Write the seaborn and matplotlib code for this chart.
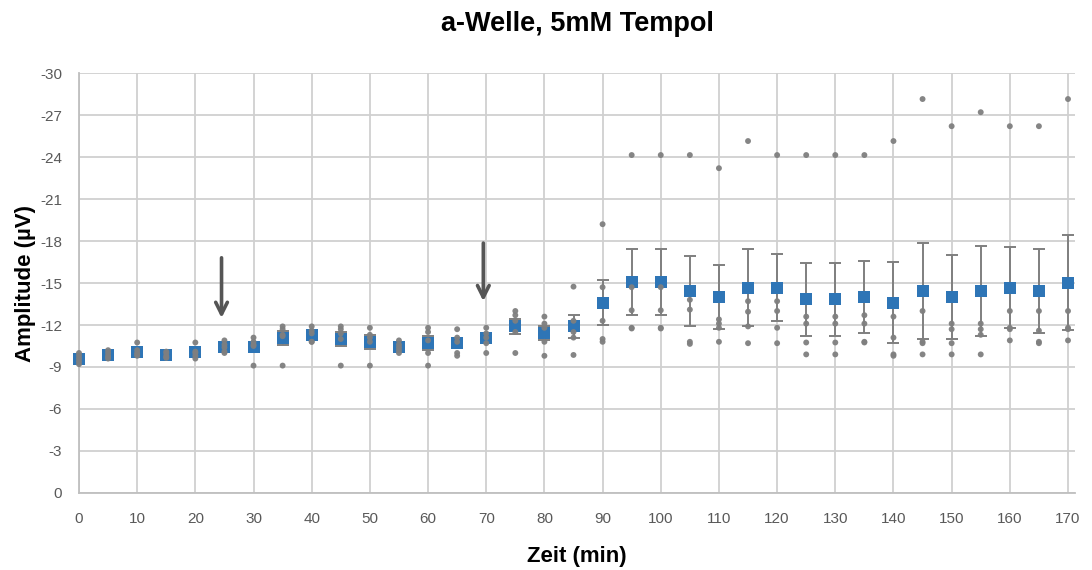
import matplotlib
matplotlib.use("Agg")
import matplotlib.pyplot as plt
from matplotlib.ticker import MultipleLocator, FuncFormatter
import numpy as np
import pandas as pd
import seaborn as sns

# Time points (min)
zeit = [0, 5, 10, 15, 20, 25, 30, 35, 40, 45, 50, 55, 60, 65, 70, 75, 80, 85,
        90, 95, 100, 105, 110, 115, 120, 125, 130, 135, 140, 145, 150, 155, 160, 165, 170]

# Mean a-wave amplitude (µV) per time point
mittelwert = [-9.6, -9.85, -10.1, -9.85, -10.05, -10.4, -10.4, -11.05, -11.3, -11.0,
              -10.8, -10.4, -10.7, -10.7, -11.05, -11.9, -11.4, -11.9,
              -13.6, -15.05, -15.05, -14.45, -14.0, -14.67, -14.67, -13.83, -13.83,
              -14.0, -13.6, -14.43, -14.0, -14.43, -14.67, -14.43, -15.02]

# Standard error of the mean
sem = [0.14, 0.1, 0.17, 0.08, 0.19, 0.17, 0.35, 0.5, 0.25, 0.5,
       0.5, 0.15, 0.5, 0.35, 0.3, 0.55, 0.5, 0.83,
       1.6, 2.36, 2.36, 2.5, 2.3, 2.75, 2.4, 2.6, 2.6,
       2.6, 2.9, 3.4, 3.0, 3.2, 2.9, 3.0, 3.4]

# Single recordings (µV), one row per time point
einzelwerte = [
    [-10.0, -9.8, -9.6, -9.4, -9.2],
    [-10.2, -10.0, -9.8, -9.7, -9.6],
    [-10.75, -10.2, -10.0, -9.9, -9.8],
    [-10.1, -10.0, -9.8, -9.7, -9.65],
    [-10.75, -10.1, -10.0, -9.8, -9.6],
    [-10.9, -10.6, -10.4, -10.1, -10.0],
    [-11.1, -10.8, -10.6, -10.5, -9.1],
    [-11.9, -11.7, -11.3, -11.2, -9.1],
    [-11.9, -11.6, -11.4, -10.8, -10.8],
    [-11.9, -11.7, -11.4, -11.0, -9.1],
    [-11.8, -11.3, -11.1, -10.8, -9.1],
    [-10.9, -10.6, -10.4, -10.2, -10.0],
    [-11.8, -11.5, -10.9, -10.0, -9.1],
    [-11.7, -11.1, -10.8, -10.0, -9.8],
    [-11.8, -11.4, -11.1, -10.7, -10.0],
    [-13.0, -12.7, -12.3, -11.5, -10.0],
    [-12.6, -12.1, -11.8, -10.8, -9.8],
    [-14.74, -12.3, -11.5, -11.1, -9.86],
    [-19.2, -14.7, -12.3, -11.0, -10.8],
    [-24.14, -14.7, -13.05, -11.8, -11.75],
    [-24.14, -14.7, -13.05, -11.8, -11.75],
    [-24.14, -13.8, -13.1, -10.8, -10.65],
    [-23.2, -12.4, -12.1, -11.8, -10.8],
    [-25.14, -13.7, -12.95, -11.9, -10.7],
    [-24.14, -13.7, -13.0, -11.8, -10.7],
    [-24.14, -12.6, -12.1, -10.75, -9.9],
    [-24.14, -12.6, -12.1, -10.75, -9.9],
    [-24.14, -12.7, -12.1, -10.8, -10.75],
    [-25.14, -12.6, -11.1, -9.9, -9.8],
    [-28.14, -13.0, -10.8, -10.7, -9.9],
    [-26.2, -12.1, -11.7, -10.7, -9.9],
    [-27.2, -12.1, -11.7, -11.3, -9.9],
    [-26.2, -13.0, -11.8, -11.7, -10.9],
    [-26.2, -13.0, -11.6, -10.8, -10.7],
    [-28.14, -13.0, -11.8, -11.7, -10.9],
]

# Application times marked with arrows: (time, arrow start, arrow tip)
pfeile = [(24.5, -16.8, -12.5), (69.5, -17.85, -13.7)]

einzel_df = pd.DataFrame(
    [(t, v) for t, werte in zip(zeit, einzelwerte) for v in werte],
    columns=["Zeit", "Amplitude"],
)
mittel_df = pd.DataFrame({"Zeit": zeit, "Amplitude": mittelwert, "SEM": sem})

sns.set_theme(style="white")
plt.rcParams["font.family"] = ["Liberation Sans", "DejaVu Sans"]

x_max = 171.2
fig = plt.figure(figsize=(10.92, 5.70), dpi=100)
ax = fig.add_axes([79 / 1092, 1 - 493 / 570, (989 * x_max / 170) / 1092, 420 / 570])

grau = "#7f7f7f"
blau = "#2e75b6"
gitter = "#d0d0d0"
text_grau = "#595959"

eb = ax.errorbar(mittel_df["Zeit"], mittel_df["Amplitude"], yerr=mittel_df["SEM"],
                 fmt="none", ecolor=grau, elinewidth=1.4, capsize=4, capthick=1.4, zorder=3)
for art in eb.lines[1] + eb.lines[2]:
    art.set_clip_on(False)
sns.scatterplot(data=mittel_df, x="Zeit", y="Amplitude", marker="s", s=80,
                color=blau, edgecolor=blau, linewidth=0, ax=ax, zorder=4, clip_on=False)
sns.scatterplot(data=einzel_df, x="Zeit", y="Amplitude", marker="o", s=18,
                color=grau, edgecolor="none", alpha=0.95, ax=ax, zorder=5, clip_on=False)

for t, start, spitze in pfeile:
    ax.annotate("", xy=(t, spitze), xytext=(t, start),
                arrowprops=dict(arrowstyle="->,head_length=0.7,head_width=0.35",
                                color="#555555", lw=2.6, shrinkA=0, shrinkB=0),
                zorder=6)

ax.set_xlim(0, x_max)
ax.set_ylim(0, -30)
ax.xaxis.set_major_locator(MultipleLocator(10))
ax.xaxis.set_minor_locator(MultipleLocator(5))
ax.yaxis.set_major_locator(MultipleLocator(3))
ax.yaxis.set_minor_locator(MultipleLocator(1))
ax.yaxis.set_major_formatter(FuncFormatter(lambda v, p: f"{v:g}".replace("-0", "0")))

ax.grid(True, which="major", color=gitter, linewidth=1.3)
ax.set_axisbelow(True)
for side in ["top", "right"]:
    ax.spines[side].set_visible(False)
for side in ["left", "bottom"]:
    ax.spines[side].set_color("#bfbfbf")
    ax.spines[side].set_linewidth(1.3)

ax.tick_params(which="major", direction="out", length=6, width=1.2, color="#bfbfbf",
               labelsize=11, labelcolor=text_grau, pad=6)
ax.tick_params(which="minor", direction="in", length=4, width=1.0, color="#bfbfbf")
ax.tick_params(axis="x", which="major", pad=8)

ax.set_title("a-Welle, 5mM Tempol", fontsize=19.5, fontweight="bold", pad=30, color="black")
ax.set_xlabel("Zeit (min)", fontsize=16, fontweight="bold", labelpad=14, color="black")
ax.set_ylabel("Amplitude (µV)", fontsize=16, fontweight="bold", labelpad=3, color="black")

fig.savefig("out.png", dpi=100, facecolor="white")
